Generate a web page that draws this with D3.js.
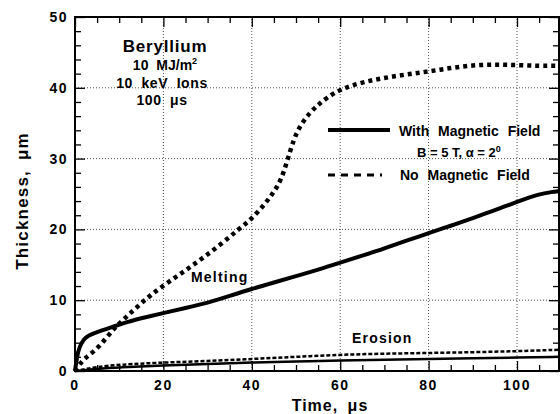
<!doctype html>
<html lang="en">
<head>
<meta charset="UTF-8">
<script src="https://d3js.org/d3.v7.min.js"></script>
<style>
  body { margin: 0; background: #fff; }
  text { font-family: "Liberation Sans", Arial, sans-serif; font-weight: bold; fill: #000; }
</style>
</head>
<body>
<div id="chart"></div>
<script>
// melting depth, with magnetic field (solid)
var tMeltMag = [0, 0.5, 1, 2, 3, 5, 8, 12, 16, 20, 25, 30, 35, 40, 45, 50, 55, 60, 65, 70, 75, 80, 85, 90, 95, 100, 105, 108, 109.5];
var meltMag = [0, 2.2, 3.4, 4.5, 5.0, 5.5, 6.1, 7.0, 7.6, 8.2, 8.9, 9.6, 10.6, 11.6, 12.5, 13.4, 14.3, 15.3, 16.3, 17.3, 18.4, 19.5, 20.5, 21.6, 22.7, 23.9, 25.0, 25.3, 25.4];
// melting depth, no magnetic field (dashed)
var tMeltNo = [0, 2, 4.5, 7, 9, 11.5, 14, 17, 21, 25, 29, 33, 37, 40, 43, 45, 46.5, 48, 49.5, 51, 53, 55, 57, 60, 65, 70, 75, 80, 85, 90, 95, 100, 105, 109.5];
var meltNo = [0, 1.8, 2.8, 4.6, 6.1, 7.6, 9.0, 10.7, 12.5, 14.2, 16.0, 17.9, 20.0, 21.5, 23.6, 25.3, 26.8, 29.6, 32.8, 34.7, 36.4, 37.6, 38.6, 39.8, 40.8, 41.4, 41.9, 42.3, 42.8, 43.2, 43.3, 43.2, 43.1, 43.1];
// erosion depth
var tErosion = [0, 5, 10, 20, 30, 40, 50, 60, 70, 80, 90, 100, 109.5];
var erosionMag = [0, 0.3, 0.5, 0.8, 1.0, 1.2, 1.35, 1.5, 1.6, 1.7, 1.8, 1.9, 2.0];
var erosionNo = [0, 0.6, 0.9, 1.2, 1.4, 1.7, 2.0, 2.3, 2.45, 2.55, 2.65, 2.8, 3.0];

var xTicks = [0, 20, 40, 60, 80, 100];
var yTicks = [0, 10, 20, 30, 40, 50];

var width = 560, height = 414;
var svg = d3.select("#chart").append("svg")
    .attr("width", width).attr("height", height);

var x = d3.scaleLinear().domain([0, 109.5]).range([75, 559]);
var y = d3.scaleLinear().domain([0, 50]).range([371, 17]);

// grid
svg.append("g").selectAll("line").data(xTicks.slice(1)).enter().append("line")
    .attr("x1", function (d) { return x(d); }).attr("x2", function (d) { return x(d); })
    .attr("y1", y(0)).attr("y2", y(50))
    .attr("stroke", "#222").attr("stroke-width", 0.8).attr("stroke-dasharray", "1,2");
svg.append("g").selectAll("line").data(yTicks.slice(1, 5)).enter().append("line")
    .attr("y1", function (d) { return y(d); }).attr("y2", function (d) { return y(d); })
    .attr("x1", x(0)).attr("x2", x(109.5))
    .attr("stroke", "#222").attr("stroke-width", 0.8).attr("stroke-dasharray", "1,2");

// axes with inward ticks
var axB = svg.append("g").attr("transform", "translate(0," + y(0) + ")")
    .call(d3.axisTop(x).tickValues(d3.range(0, 110, 5)).tickSize(6).tickFormat(""));
var axT = svg.append("g").attr("transform", "translate(0," + y(50) + ")")
    .call(d3.axisBottom(x).tickValues(d3.range(0, 110, 5)).tickSize(6).tickFormat(""));
var axL = svg.append("g").attr("transform", "translate(" + x(0) + ",0)")
    .call(d3.axisRight(y).tickValues(d3.range(0, 51, 2)).tickSize(6).tickFormat(""));
var axR = svg.append("g").attr("transform", "translate(" + x(109.5) + ",0)")
    .call(d3.axisLeft(y).tickValues(d3.range(0, 51, 2)).tickSize(6).tickFormat(""));
[axB, axT, axL, axR].forEach(function (a) {
    a.select(".domain").remove();
    a.selectAll("line").attr("stroke", "#000").attr("stroke-width", 1.3);
});
// major ticks longer
axB.selectAll(".tick line").attr("y2", function (d) { return d % 20 === 0 ? -10 : -6; });
axT.selectAll(".tick line").attr("y2", function (d) { return d % 20 === 0 ? 10 : 6; });
axL.selectAll(".tick line").attr("x2", function (d) { return d % 10 === 0 ? 10 : 6; });
axR.selectAll(".tick line").attr("x2", function (d) { return d % 10 === 0 ? -10 : -6; });

// frame
svg.append("rect").attr("x", x(0)).attr("y", y(50))
    .attr("width", x(109.5) - x(0)).attr("height", y(0) - y(50))
    .attr("fill", "none").attr("stroke", "#000").attr("stroke-width", 2);

// tick labels
svg.append("g").selectAll("text").data(xTicks).enter().append("text")
    .attr("x", function (d) { return x(d); }).attr("y", 390).attr("letter-spacing", 1.5)
    .attr("text-anchor", "middle").attr("font-size", 14).text(function (d) { return d; });
svg.append("g").selectAll("text").data(yTicks).enter().append("text")
    .attr("x", 68).attr("y", function (d) { return y(d) + 5; }).attr("letter-spacing", 1.5)
    .attr("text-anchor", "end").attr("font-size", 14).text(function (d) { return d; });

// axis titles
svg.append("text").attr("x", 330).attr("y", 411).attr("text-anchor", "middle")
    .attr("font-size", 16).attr("letter-spacing", 1).attr("word-spacing", 4).text("Time, μs");
svg.append("text").attr("transform", "translate(28,201) rotate(-90)").attr("text-anchor", "middle")
    .attr("font-size", 17).attr("letter-spacing", 1.2).attr("word-spacing", 4).text("Thickness, μm");

// curves
var line = d3.line().x(function (d) { return x(d[0]); }).y(function (d) { return y(d[1]); })
    .curve(d3.curveBasis);
function pairs(t, v) { return t.map(function (d, i) { return [d, v[i]]; }); }

svg.append("path").datum(pairs(tErosion, erosionMag)).attr("d", line)
    .attr("fill", "none").attr("stroke", "#000").attr("stroke-width", 2.5);
svg.append("path").datum(pairs(tErosion, erosionNo)).attr("d", line)
    .attr("fill", "none").attr("stroke", "#000").attr("stroke-width", 2.5).attr("stroke-dasharray", "4,2");
svg.append("path").datum(pairs(tMeltMag, meltMag)).attr("d", line)
    .attr("fill", "none").attr("stroke", "#000").attr("stroke-width", 4).attr("stroke-linejoin", "round");
svg.append("path").datum(pairs(tMeltNo, meltNo)).attr("d", line)
    .attr("fill", "none").attr("stroke", "#000").attr("stroke-width", 4.5).attr("stroke-dasharray", "4,4");

// annotations
svg.append("text").attr("x", 165).attr("y", 52).attr("text-anchor", "middle")
    .attr("font-size", 17).attr("letter-spacing", 0.8).text("Beryllium");
var note = svg.append("g").attr("font-size", 14).attr("text-anchor", "middle").attr("word-spacing", 4);
var t1 = note.append("text").attr("x", 165).attr("y", 70);
t1.append("tspan").text("10 MJ/m");
t1.append("tspan").attr("font-size", 9).attr("dy", -6).text("2");
note.append("text").attr("x", 162).attr("y", 88).attr("letter-spacing", 0.6).text("10 keV Ions");
note.append("text").attr("x", 162).attr("y", 105).attr("letter-spacing", 0.6).text("100 μs");

svg.append("text").attr("x", 191).attr("y", 282).attr("font-size", 14).attr("letter-spacing", 1.2).text("Melting");
svg.append("text").attr("x", 352).attr("y", 343).attr("font-size", 14).attr("letter-spacing", 1.2).text("Erosion");

// legend
svg.append("line").attr("x1", 328).attr("x2", 390).attr("y1", 130).attr("y2", 130)
    .attr("stroke", "#000").attr("stroke-width", 4);
svg.append("text").attr("x", 399).attr("y", 136).attr("font-size", 14).attr("word-spacing", 5)
    .text("With Magnetic Field");
var t2 = svg.append("text").attr("x", 417).attr("y", 157).attr("font-size", 13);
t2.append("tspan").text("B = 5 T, α = 2");
t2.append("tspan").attr("font-size", 9).attr("dy", -5).text("0");
svg.append("line").attr("x1", 328).attr("x2", 382).attr("y1", 175).attr("y2", 175)
    .attr("stroke", "#000").attr("stroke-width", 3).attr("stroke-dasharray", "7,6");
svg.append("text").attr("x", 400).attr("y", 180).attr("font-size", 14).attr("word-spacing", 5)
    .text("No Magnetic Field");
</script>
</body>
</html>
